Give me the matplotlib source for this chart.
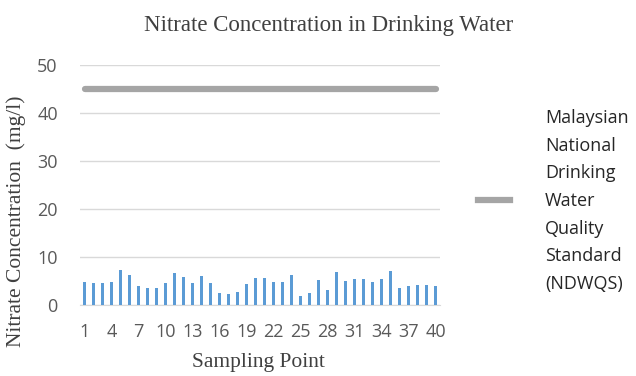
import numpy as np
import matplotlib
matplotlib.use("Agg")
import matplotlib.pyplot as plt

# sampling points and nitrate values (mg/l)
points = np.arange(1, 41)
nitrate = [4.8, 4.5, 4.5, 4.7, 7.2, 6.2, 4.0, 3.6, 3.6, 4.5,
           6.7, 5.9, 4.6, 6.0, 4.5, 2.4, 2.2, 2.7, 4.3, 5.7,
           5.7, 4.7, 4.8, 6.2, 1.9, 2.4, 5.2, 3.1, 6.9, 5.0,
           5.5, 5.5, 4.8, 5.5, 7.0, 3.6, 4.0, 4.1, 4.1, 3.9]
ndwqs = 45
xtick_labels = [str(i) for i in range(1, 41, 3)]
legend_text = "Malaysian\nNational\nDrinking\nWater\nQuality\nStandard\n(NDWQS)"

fig = plt.figure(figsize=(6.36, 3.76), dpi=100)
ax = fig.add_axes([80 / 636, 1 - 305 / 376, 360 / 636, 240 / 376])

ax.bar(points, nitrate, width=0.35, color="#5b9bd5", zorder=3)
ax.plot(points, [ndwqs] * len(points), color="#a5a5a5", lw=4.5,
        solid_capstyle="round", zorder=4)

ax.set_xlim(0.5, 40.5)
ax.set_ylim(0, 50)
ax.set_yticks(range(0, 51, 10))
ax.set_xticks(range(1, 41, 3))
ax.set_xticklabels(xtick_labels)
ax.grid(axis="y", color="#d9d9d9", lw=1, zorder=0)
for s in ["top", "right", "left"]:
    ax.spines[s].set_visible(False)
ax.spines["bottom"].set_color("#d9d9d9")
ax.tick_params(length=0, labelsize=13, labelcolor="#595959")
for t in ax.get_xticklabels() + ax.get_yticklabels():
    t.set_family("Open Sans")
ax.tick_params(axis="y", pad=16)
ax.tick_params(axis="x", pad=13)

fig.text(329 / 636, 1 - 26 / 376, "Nitrate Concentration in Drinking Water",
         family="Liberation Serif", fontsize=16.5, color="#404040",
         ha="center", va="center")
ax.set_ylabel("Nitrate Concentration  (mg/l)", family="Liberation Serif",
              fontsize=15.5, color="#404040")
ax.yaxis.set_label_coords(-0.15, 0.35)
ax.set_xlabel("Sampling Point", family="Liberation Serif", fontsize=15.5,
              color="#404040")
ax.xaxis.set_label_coords(0.495, -0.2)

# legend drawn by hand on the right
fig.lines.append(plt.Line2D([478 / 636, 510 / 636], [1 - 200 / 376] * 2,
                            color="#a5a5a5", lw=4.5, transform=fig.transFigure))
fig.text(545 / 636, 1 - 201 / 376, legend_text, family="Open Sans", fontsize=13,
         color="#262626", va="center", ha="left", linespacing=1.68)

plt.savefig("out.png", dpi=100)
plt.close()
